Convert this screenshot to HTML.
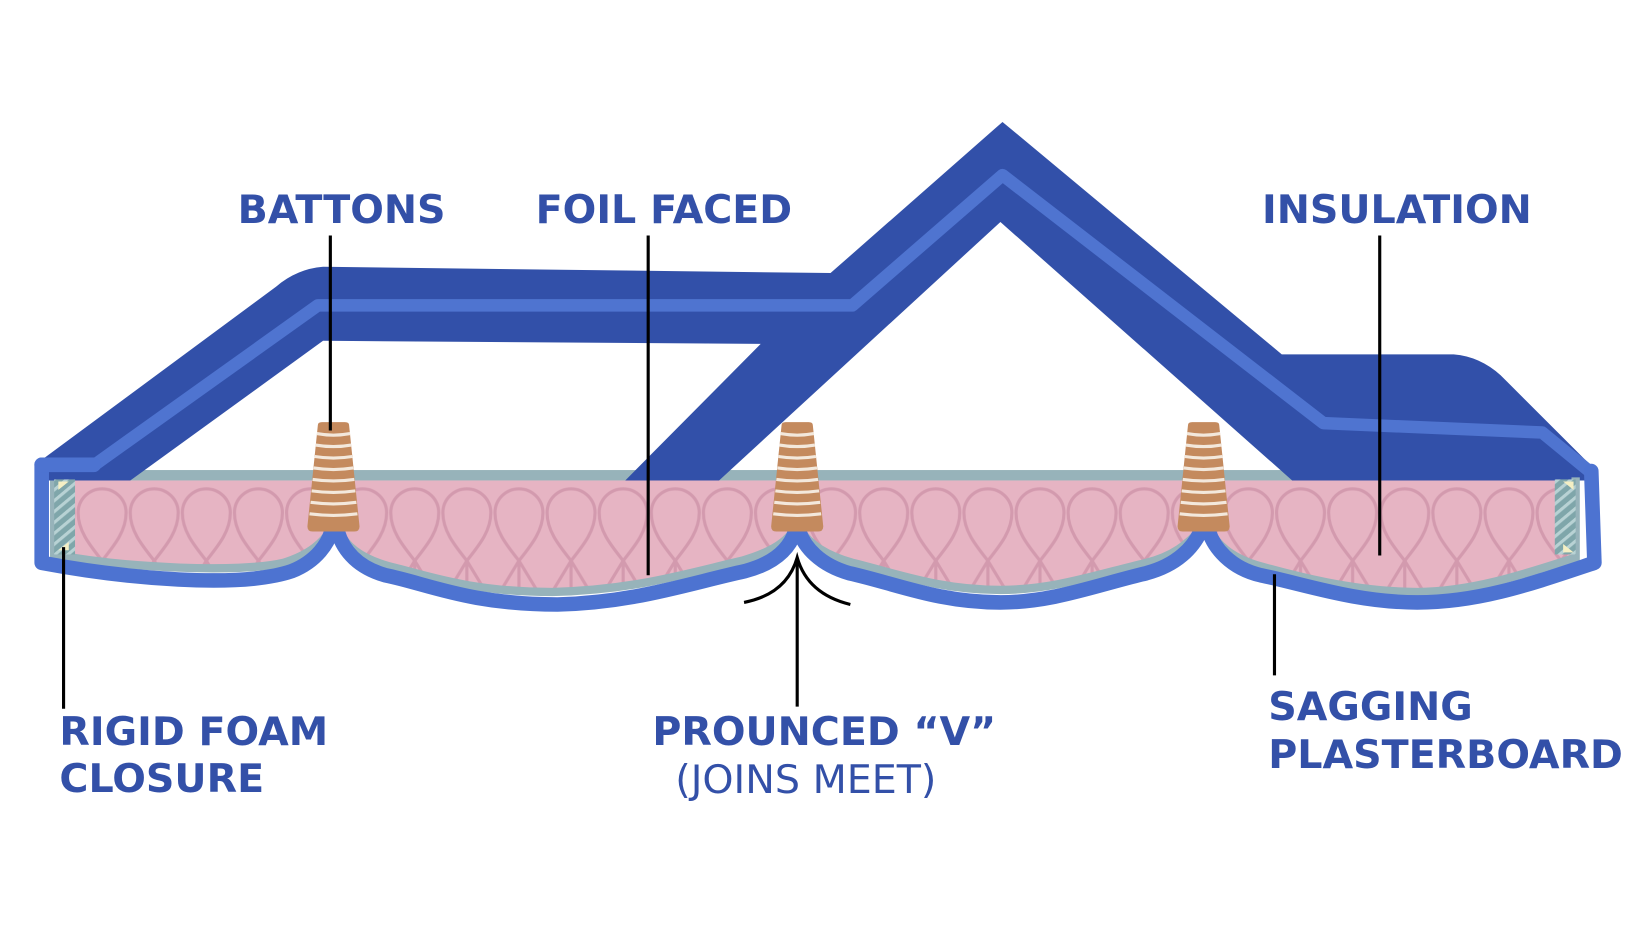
<!DOCTYPE html>
<html><head><meta charset="utf-8"><style>
html,body{margin:0;padding:0;background:#fff;}
svg{display:block;}
text{font-family:"DejaVu Sans","Liberation Sans",sans-serif;fill:#3350a8;}
</style></head><body>
<svg width="1634" height="938" viewBox="0 0 1568 900" preserveAspectRatio="none" xmlns="http://www.w3.org/2000/svg">
<defs>
<pattern id="loops" x="23" y="466" width="50" height="200" patternUnits="userSpaceOnUse">
<rect width="50" height="200" fill="#e6b4c3"/>
<path d="M25,72 C14,58 2,44 2,26 A23,23 0 1 1 48,26 C48,44 36,58 25,72 Z" fill="none" stroke="#d39aae" stroke-width="3"/>
<path d="M25,72 L5,105 M25,72 L45,105 M25,72 L25,110" fill="none" stroke="#d39aae" stroke-width="3"/>
</pattern>
<pattern id="hatch" width="8" height="8" patternUnits="userSpaceOnUse" patternTransform="rotate(-40)">
<rect width="8" height="8" fill="#7fa6aa"/>
<rect width="8" height="3" fill="#b8d2d4"/>
</pattern>
<clipPath id="ins"><path d="M48,461 L1515,461 L1515,535 C1450,560 1400,568 1360,566 C1300,566 1240,552 1200,542 C1175,535 1165,520 1158,508 L1150,508 C1140,525 1120,536 1100,540 C1050,552 1010,566 960,566 C900,566 860,550 815,538 C790,530 775,520 768,508 L762,508 C755,520 740,530 715,537 C660,550 610,568 530,570 C450,570 400,550 365,540 C340,532 328,520 322,508 L316,508 C308,525 295,535 270,540 C230,548 120,540 48,530 Z"/></clipPath>
</defs>

<rect x="40" y="455" width="1490" height="130" fill="url(#loops)" clip-path="url(#ins)"/>
<rect x="48" y="451" width="1468" height="10" fill="#97b3ba"/>

<path d="M35,445 L265,275 Q285,258 310,256 L797,262 L962,117 L1230,340 L1395,340 Q1420,342 1440,360 L1525,445 L1525,461 L1240,461 L960,213 L690,461 L600,461 L730,330 L310,327 L125,461 L35,461 Z" fill="#3250a9"/>
<polyline points="88,448 305,293 818,293 962,168 1270,406 1480,415 1525,452" fill="none" stroke="#4f74d0" stroke-width="12" stroke-linejoin="round"/>

<path d="M52,461 L52,532 C120,545 230,550 272,540 C298,532 310,520 318,508 M324,508 C332,524 345,535 372,543 C410,552 450,568 530,568 C610,566 660,550 712,538 C740,530 755,520 762,508 M768,508 C775,520 790,532 818,540 C860,550 900,566 960,566 C1010,566 1050,552 1100,540 C1125,534 1140,522 1152,508 M1160,508 C1168,522 1180,534 1205,542 C1240,552 1300,568 1360,568 C1410,568 1460,552 1512,535 L1512,458" fill="none" stroke="#97b3ba" stroke-width="8"/>
<path d="M40,446 L40,540 C120,555 230,565 280,548 C305,538 315,520 318,510 M324,510 C330,530 345,545 370,552 C410,560 450,580 535,580 C610,578 660,560 715,548 C745,540 758,525 763,510 M767,510 C772,525 787,542 815,550 C860,560 900,578 960,578 C1010,578 1050,562 1100,550 C1130,542 1145,525 1152,510 M1160,510 C1165,525 1180,545 1210,552 C1250,560 1300,578 1360,578 C1420,578 1470,560 1530,540 L1527,452" fill="none" stroke="#4d73d1" stroke-width="14" stroke-linecap="round" stroke-linejoin="round"/>
<path d="M40,446 L90,446" stroke="#4d73d1" stroke-width="14" stroke-linecap="round"/>

<rect x="52" y="460" width="20" height="72" fill="url(#hatch)"/>
<rect x="1492" y="460" width="20" height="72" fill="url(#hatch)"/>
<polygon points="56,462 66,462 56,470" fill="#f4efc4"/><polygon points="66,528 56,528 66,520" fill="#f4efc4"/>
<polygon points="1510,462 1500,462 1510,470" fill="#f4efc4"/><polygon points="1500,530 1510,530 1500,522" fill="#f4efc4"/>

<g id="b1">
<path d="M305,408 Q305,405 309,405 L331,405 Q335,405 335,408 L345,505 Q345,510 340,510 L300,510 Q295,510 295,505 Z" fill="#c48a5e"/>
<g stroke="#f3e8dc" stroke-width="3" fill="none">
<path d="M304,416 Q320,419 336,416"/><path d="M303,427 Q320,430 337,427"/><path d="M302,438 Q320,441 338,438"/><path d="M301,449 Q320,452 339,449"/><path d="M300,460 Q320,463 340,460"/><path d="M299,471 Q320,474 341,471"/><path d="M298,482 Q320,485 342,482"/><path d="M297,493 Q320,496 343,493"/>
</g></g>
<use href="#b1" x="445"/>
<use href="#b1" x="835"/>

<g stroke="#000" stroke-width="3" fill="none">
<line x1="317" y1="226" x2="317" y2="413"/>
<line x1="622" y1="226" x2="622" y2="552"/>
<line x1="1324" y1="226" x2="1324" y2="533"/>
<line x1="61" y1="525" x2="61" y2="680"/>
<line x1="1223" y1="551" x2="1223" y2="648"/>
<line x1="765" y1="535" x2="765" y2="678"/>
<path d="M714,578 Q755,570 765,535 Q775,570 816,580"/>
</g>

<g font-weight="bold" font-size="38">
<text x="228" y="214">BATTONS</text>
<text x="514" y="214">FOIL FACED</text>
<text x="1211" y="214">INSULATION</text>
<text x="57" y="715">RIGID FOAM</text>
<text x="57" y="760">CLOSURE</text>
<text x="626" y="715">PROUNCED “V”</text>
<text x="1217" y="691">SAGGING</text>
<text x="1217" y="737">PLASTERBOARD</text>
</g>
<text x="648" y="761" font-size="38">(JOINS MEET)</text>
</svg>
</body></html>
